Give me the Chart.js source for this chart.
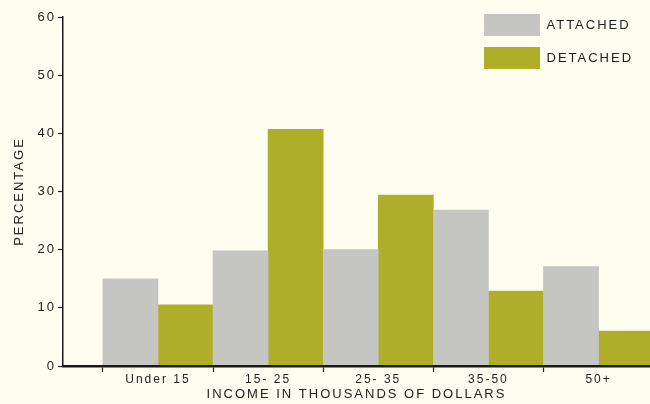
<!DOCTYPE html>
<html>
<head>
<meta charset="utf-8">
<script src="https://cdn.jsdelivr.net/npm/chart.js@4/dist/chart.umd.min.js"></script>
<style>
  html, body { margin: 0; padding: 0; background: #fefdf0; }
  #wrap { width: 650px; height: 404px; position: relative; }
</style>
</head>
<body>
<div id="wrap"><canvas id="chart"></canvas></div>
<script>
/* global Chart */

// values
const categories = ['Under 15', '15- 25', '25- 35', '35-50', '50+'];
const attached = [15.0, 19.8, 20.0, 26.8, 17.1];
const detached = [10.5, 40.7, 29.4, 12.9, 6.0];
const seriesNames = ['ATTACHED', 'DETACHED'];

const INK = '#222';
const FONT = '"Liberation Sans", Arial, sans-serif';

Chart.defaults.font.family = FONT;
Chart.defaults.color = INK;

function toPoints(values) {
  return values.map(function(v, i) { return { x: i, y: v }; });
}

// put the legend inside the plot, top right, and space out the lettering
const printLook = {
  id: 'printLook',
  afterLayout: function(chart) {
    const lg = chart.legend;
    lg.left = 473;
    lg.top = 3;
    lg.right = 650;
    lg.bottom = 100;
    lg.width = lg.right - lg.left;
    lg.height = lg.bottom - lg.top;
  },
  beforeDraw: function(chart) {
    chart.ctx.letterSpacing = '2px';
  },
};

const ctx = document.getElementById('chart').getContext('2d');

new Chart(ctx, {
  type: 'bar',
  data: {
    datasets: [{
      label: seriesNames[0],
      data: toPoints(attached),
      backgroundColor: '#c5c5c1',
      borderWidth: 0,
    }, {
      label: seriesNames[1],
      data: toPoints(detached),
      backgroundColor: '#afae28',
      borderWidth: 0,
    }],
  },
  plugins: [printLook],
  options: {
    responsive: true,
    maintainAspectRatio: false,
    animation: false,
    layout: { padding: { top: 17, right: 0, bottom: 0, left: 0 } },
    datasets: {
      bar: { categoryPercentage: 1, barPercentage: 1 },
    },
    scales: {
      x: {
        type: 'linear',
        offset: false,
        min: -0.862,
        max: 4.467,
        afterBuildTicks: function(scale) {
          scale.ticks = categories.map(function(c, i) { return { value: i }; });
        },
        ticks: {
          callback: function(v) { return categories[v]; },
          color: INK,
          font: { size: 12 },
          padding: 0,
          maxRotation: 0,
          autoSkip: false,
        },
        grid: { offset: true, drawOnChartArea: false, tickLength: 6, tickColor: INK, tickWidth: 1.2 },
        border: { color: '#1a1a1a', width: 2.5, z: 1 },
        title: {
          display: true,
          text: 'INCOME IN THOUSANDS OF DOLLARS',
          color: INK,
          font: { size: 13 },
          padding: { top: 0, bottom: 2 },
        },
        afterFit: function(scale) { scale.height = 38; },
      },
      y: {
        min: 0,
        max: 60,
        ticks: { stepSize: 10, color: INK, font: { size: 13 }, padding: 2 },
        grid: { drawOnChartArea: false, tickLength: 5, tickColor: INK, tickWidth: 1.2 },
        border: { color: '#1a1a1a', width: 1.5, z: 1 },
        title: {
          display: true,
          text: 'PERCENTAGE',
          color: INK,
          font: { size: 13 },
          padding: { top: 12, bottom: 0 },
        },
        afterFit: function(scale) { scale.width = 63; },
      },
    },
    plugins: {
      legend: {
        position: 'chartArea',
        align: 'start',
        labels: {
          boxWidth: 56,
          boxHeight: 22,
          padding: 11,
          color: INK,
          font: { size: 13 },
        },
      },
      tooltip: { enabled: false },
    },
  },
});
</script>
</body>
</html>
